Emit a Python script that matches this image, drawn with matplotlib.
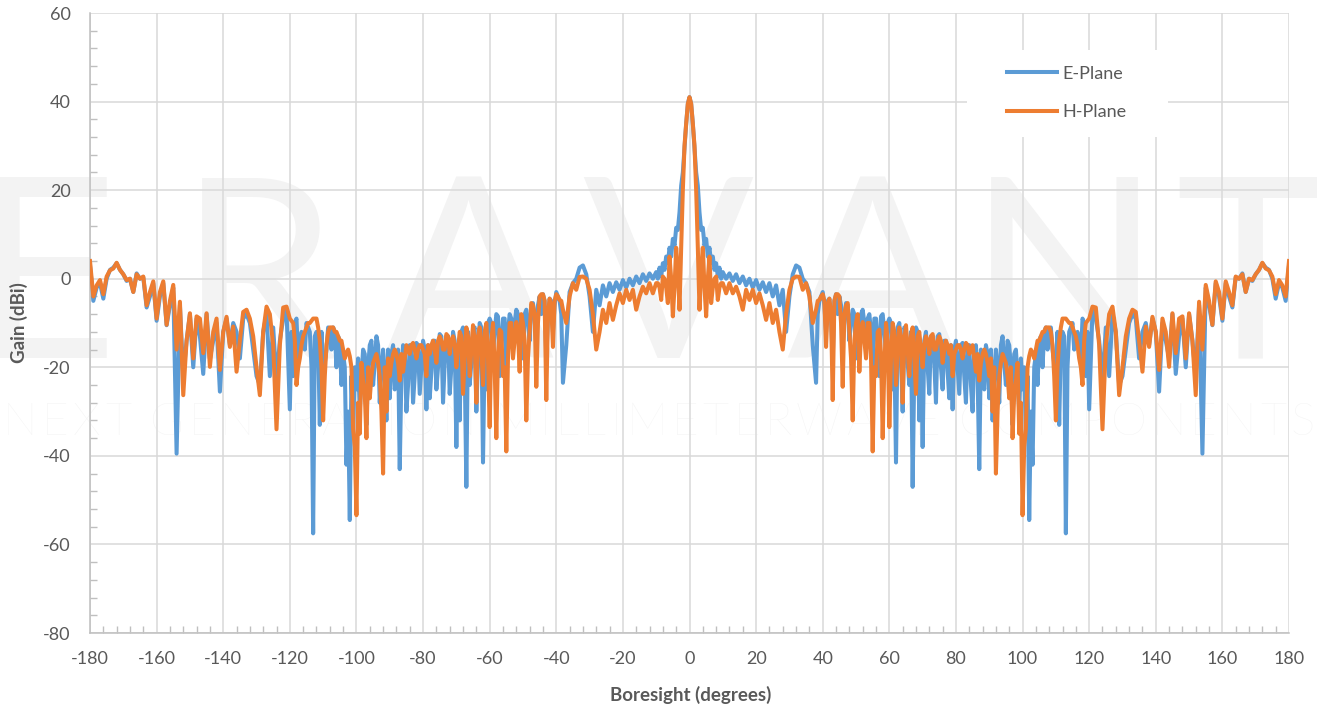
import numpy as np
import matplotlib.pyplot as plt
from matplotlib.patches import Rectangle
from matplotlib.ticker import MultipleLocator

angle_center = [0, 0.5, 1, 1.5, 2, 2.5, 3, 3.5, 4, 4.5, 5, 5.5, 6, 6.5, 7, 7.5, 8, 8.5, 9, 9.5, 10]
angle_outer = list(range(11, 181))
# dodatkowe punkty co pol stopnia w gestym obszarze listkow bocznych
angle_between = [a + 0.5 for a in range(38, 120)]

e_center = [41, 39.5, 35, 29.5, 24, 21, 15, 11, 11.5, 7.5, 9, 5, 7, 3.5, 5, 2, 3.5, 0.5, 2.5, 0, 1.5]
e_outer = [
    0, 1.2, -0.5, 1, -1, 0.5, -1.5, 0, -2, -0.3,            # 11-20
    -2.5, -0.8, -3, -1, -4, -1.5, -6, -2.5, -12, -4,        # 21-30
    1, 3, 2.5, 0, -1, -3, -15, -23.5, -5, -3,               # 31-40
    -12, -4.5, -18, -3.5, -4, -15, -5.5, -14, -7, -18,      # 41-50
    -12, -7, -16, -8, -20, -9, -22, -8, -17, -9,            # 51-60
    -25, -41.5, -10, -30, -12, -24, -47, -11, -32, -38,     # 61-70
    -12, -26, -13, -28, -12.5, -25, -14, -27, -29.5, -14,   # 71-80
    -26, -14.5, -28, -15, -30, -15, -43, -22, -15, -27,     # 81-90
    -32, -16, -28, -13, -24, -15, -33, -16, -30, -25,       # 91-100
    -35, -54.5, -42, -17, -14, -20, -11, -12, -16, -22,     # 101-110
    -33, -12, -57.5, -12, -10, -13, -15, -9, -22, -29.5,    # 111-120
    -7, -9, -14, -23, -11, -22, -8, -12, -24, -22,          # 121-130
    -16, -10, -8, -9, -18, -12, -10, -15, -9, -12,          # 131-140
    -25.5, -10, -14, -18, -8, -21.5, -13, -9, -20, -8,      # 141-150
    -14, -22, -6, -39.5, -2, -6, -10.5, -1, -4, -9.5,       # 151-160
    -1, -4, -6.5, 0.3, 0, 1.2, -3, 0, -0.5, 1,              # 161-170
    2, 3.5, 2.5, 2, 0, -4.5, -1, -2, -5, 3,                 # 171-180
]
e_between = [
    -8, -4, -6, -5, -9, -5, -8, -6, -9, -6,                 # 38.5-47.5
    -10, -8, -9, -8, -10, -9, -12, -9, -14, -8.5,           # 48.5-57.5
    -12, -10, -10, -16, -11, -18, -11, -19, -12, -20,       # 58.5-67.5
    -12, -15, -14, -20, -13, -19, -13, -20, -14, -21,       # 68.5-77.5
    -15, -16, -20, -15, -22, -15, -24, -16, -22, -16,       # 78.5-87.5
    -25, -17, -16, -22, -20, -15, -19, -14, -20, -17,       # 88.5-97.5
    -22, -18, -20, -22, -30, -20, -24, -13, -12, -16,       # 98.5-107.5
    -11, -19, -12, -15, -13, -20, -11, -16, -12, -18,       # 108.5-117.5
    -10, -12,                                               # 118.5-119.5
]

h_center = [41, 39.5, 35, 30, 20, 7, -7, 2, 7, -2, -8.5, 0, 5, -5.5, -2, 0, 0.5, -4.8, -2, -1, -1]
h_outer = [
    -3.3, -1, -3.3, -1.8, -4, -7, -2.5, -4.8, -2.5, -5.5,   # 11-20
    -3.3, -6, -9.3, -5.5, -10, -7, -12, -16, -8, -2.5,      # 21-30
    0, 0.5, 0.4, -2.5, -1, -4, -10, -7, -4.8, -3.5,         # 31-40
    -15.4, -4.5, -27.4, -3.5, -4, -24.4, -6, -12, -32, -10, # 41-50
    -21, -9.8, -18, -10, -39, -22, -11.5, -36, -10, -33.5,  # 51-60
    -10, -24, -11, -28, -10.5, -22, -11, -26, -12, -20,     # 61-70
    -13, -17, -12.5, -16, -13, -19, -14, -17, -22, -16,     # 71-80
    -15, -18, -14.5, -17, -15, -21, -23, -17, -17, -22,     # 81-90
    -30, -44, -22, -17, -19, -27, -36, -23, -35, -53.4,     # 91-100
    -34, -17.5, -16.8, -16, -14, -12, -11, -11, -15, -32,   # 101-110
    -14, -9, -9, -10, -11, -13, -18, -24, -10, -9,          # 111-120
    -6.3, -6.5, -15, -34, -15, -8, -6.3, -12, -26.3, -20,   # 121-130
    -13, -9, -7, -7.5, -14, -21, -10.8, -15.4, -8.6, -12,   # 131-140
    -20.6, -9, -12, -19.9, -7.8, -16.8, -9, -8.5, -18, -7.8, # 141-150
    -14, -26.3, -5.2, -16, -1.4, -5, -10.4, -0.6, -3, -9,   # 151-160
    -0.6, -3, -6, 0.5, 0, 1, -3, 0, -0.3, 1,                # 161-170
    2, 3.6, 2.3, 1.9, 0.5, -3.5, -0.3, -1.5, -4, 4,         # 171-180
]
h_between = [
    -5, -4, -5, -6, -8, -5, -3.5, -10, -8, -5.5,            # 38.5-47.5
    -18, -14, -8, -12, -14, -10, -18, -20, -12, -17,        # 48.5-57.5
    -20, -14, -18, -12, -16, -13, -14, -16, -13, -18,       # 58.5-67.5
    -13, -16, -15, -14, -13, -16, -14, -14, -16, -15,       # 68.5-77.5
    -15, -17, -15, -16, -16, -15, -16, -18, -17, -19,       # 78.5-87.5
    -16, -19, -18, -20, -30, -19, -18, -22, -20, -26,       # 88.5-97.5
    -19, -28, -38, -20, -16, -18, -14, -13, -12, -11,       # 98.5-107.5
    -12, -22, -20, -11, -9, -9.5, -10, -12, -15, -20,       # 108.5-117.5
    -14, -9.5,                                              # 118.5-119.5
]

x_ticks = [-180, -160, -140, -120, -100, -80, -60, -40, -20, 0, 20, 40, 60, 80, 100, 120, 140, 160, 180]
y_ticks = [-80, -60, -40, -20, 0, 20, 40, 60]

# sklejanie: polowka 0..180, potem odbicie na -180..0
angle_half = np.array(angle_center + angle_outer + angle_between, dtype=float)
e_half = np.array(e_center + e_outer + e_between, dtype=float)
h_half = np.array(h_center + h_outer + h_between, dtype=float)
assert len(angle_half) == len(e_half) == len(h_half)
kolejnosc = np.argsort(angle_half)
angle_half, e_half, h_half = angle_half[kolejnosc], e_half[kolejnosc], h_half[kolejnosc]

katy = np.concatenate([-angle_half[:0:-1], angle_half])
e_plane = np.concatenate([e_half[:0:-1], e_half])
h_plane = np.concatenate([h_half[:0:-1], h_half])

plt.rcParams['font.family'] = ['Lato', 'DejaVu Sans']
plt.rcParams['axes.unicode_minus'] = False

W, H = 1317, 711
fig = plt.figure(figsize=(W / 100, H / 100), dpi=100)
fig.patch.set_facecolor('white')
ax = fig.add_axes([90 / W, 78 / H, 1199 / W, 620 / H])
ax.patch.set_visible(False)

# znak wodny
wm = '#f3f3f3'
for litera, px in zip('ERAVANT', [45, 258, 468, 668, 872, 1064, 1250]):
    fig.text(px / W, 1 - 358 / H, litera, ha='center', va='baseline', fontsize=182,
             fontweight='normal', color=wm, zorder=-2)

slogan = 'NEXT GENERATION MILLIMETERWAVE COMPONENTS'
fs_slogan = 33
renderer = fig.canvas.get_renderer()
szer = []
for ch in slogan:
    if ch == ' ':
        szer.append(10)
        continue
    t = fig.text(0, 0, ch, fontsize=fs_slogan, fontweight='light')
    szer.append(t.get_window_extent(renderer).width)
    t.remove()
odstep = (1312 - sum(szer)) / (len(slogan) - 1)
xp = 3
for ch, w in zip(slogan, szer):
    if ch != ' ':
        fig.text(xp / W, 1 - 423 / H, ch, ha='left', va='center', fontsize=fs_slogan,
                 fontweight='light', color=wm, zorder=-2)
    xp += w + odstep

ax.plot(katy, e_plane, color='#5b9bd5', lw=2.9, label='E-Plane', zorder=2, solid_joinstyle='round')
ax.plot(katy, h_plane, color='#ed7d31', lw=2.9, label='H-Plane', zorder=3, solid_joinstyle='round')

ax.set_xlim(-180, 180)
ax.set_ylim(-80, 60)
ax.set_xticks(x_ticks)
ax.set_yticks(y_ticks)
ax.xaxis.set_minor_locator(MultipleLocator(4))
ax.yaxis.set_minor_locator(MultipleLocator(4))
ax.set_axisbelow(True)
ax.grid(True, which='major', color='#d9d9d9', lw=1.1)
ax.tick_params(which='major', length=0, labelsize=13, labelcolor='#595959')
ax.tick_params(axis='x', which='major', pad=13)
ax.tick_params(axis='y', which='major', pad=14)
ax.tick_params(which='minor', direction='in', length=5, color='#bfbfbf', width=1)
for s in ['top', 'right']:
    ax.spines[s].set_visible(False)
for s in ['left', 'bottom']:
    ax.spines[s].set_color('#bfbfbf')
    ax.spines[s].set_linewidth(1.1)

fig.text(691 / W, 1 - 695 / H, 'Boresight (degrees)', ha='center', va='center',
         fontsize=13.5, fontweight='bold', color='#595959')
fig.text(19 / W, 1 - 323 / H, 'Gain (dBi)', ha='center', va='center', rotation=90,
         fontsize=13.5, fontweight='bold', color='#595959')

# tlo legendy zaslania siatke
ax.add_patch(Rectangle((967 / W, 1 - 137 / H), 201 / W, 87 / H, transform=fig.transFigure,
                       facecolor='white', edgecolor='none', zorder=1))
leg = ax.legend(loc='center', bbox_to_anchor=(1067 / W, 1 - 93 / H), bbox_transform=fig.transFigure,
                frameon=False, fontsize=13, handlelength=2.75, handletextpad=0.3,
                labelspacing=1.25, borderpad=0)
for t in leg.get_texts():
    t.set_color('#595959')

fig.savefig('out.png', dpi=100)
